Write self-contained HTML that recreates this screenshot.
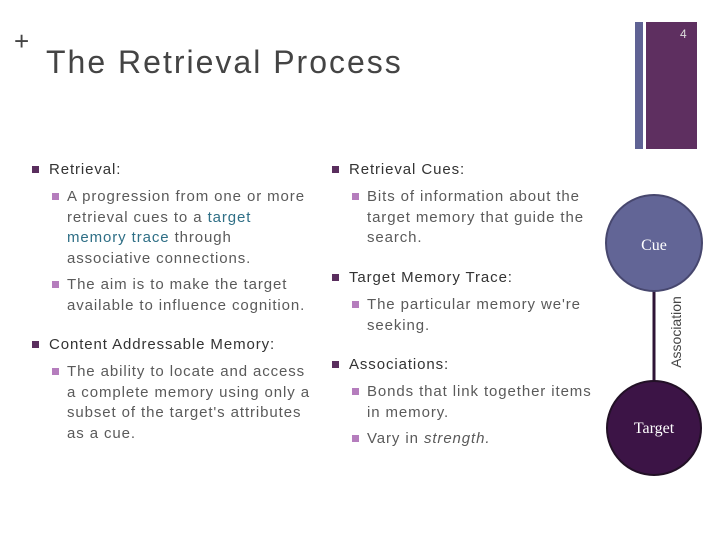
<!DOCTYPE html>
<html><head><meta charset="utf-8"><style>
body{margin:0;width:720px;height:540px;background:#fff;position:relative;overflow:hidden;font-family:"Liberation Sans",sans-serif;color:#5a5a5a}
.a{position:absolute}
.t{font-size:15px;line-height:20.5px;letter-spacing:0.9px}
.l1{color:#333}
.b1{position:absolute;width:7px;height:7px;background:#5a2e5e}
.b2{position:absolute;width:7px;height:7px;background:#b57dbd}
.hl{color:#2f6f86}
</style></head><body>
<div class="a" style="left:14px;top:28px;font-size:26px;color:#444;line-height:26px">+</div>
<div class="a" style="left:46px;top:44px;font-size:32px;color:#444;letter-spacing:2px">The Retrieval Process</div>
<div class="a" style="left:635px;top:22px;width:8px;height:127px;background:#5f6294"></div>
<div class="a" style="left:646px;top:22px;width:51px;height:127px;background:#5e2f60"></div>
<div class="a" style="left:680px;top:27px;font-size:12px;color:#ddd">4</div>

<div class="b1" style="left:32px;top:166px"></div>
<div class="a t l1" style="left:49px;top:160px">Retrieval:</div>
<div class="b2" style="left:52px;top:193px"></div>
<div class="a t" style="left:67px;top:187px;width:245px">A progression from one or more retrieval cues to a <span class="hl">target memory trace</span> through associative connections.</div>
<div class="b2" style="left:52px;top:281px"></div>
<div class="a t" style="left:67px;top:275px;width:245px">The aim is to make the target available to influence cognition.</div>
<div class="b1" style="left:32px;top:341px"></div>
<div class="a t l1" style="left:49px;top:335px">Content Addressable Memory:</div>
<div class="b2" style="left:52px;top:368px"></div>
<div class="a t" style="left:67px;top:362px;width:245px">The ability to locate and access a complete memory using only a subset of the target's attributes as a cue.</div>

<div class="b1" style="left:332px;top:166px"></div>
<div class="a t l1" style="left:349px;top:160px">Retrieval Cues:</div>
<div class="b2" style="left:352px;top:193px"></div>
<div class="a t" style="left:367px;top:187px;width:232px">Bits of information about the target memory that guide the search.</div>
<div class="b1" style="left:332px;top:274px"></div>
<div class="a t l1" style="left:349px;top:268px">Target Memory Trace:</div>
<div class="b2" style="left:352px;top:301px"></div>
<div class="a t" style="left:367px;top:295px;width:232px">The particular memory we're seeking.</div>
<div class="b1" style="left:332px;top:361px"></div>
<div class="a t l1" style="left:349px;top:355px">Associations:</div>
<div class="b2" style="left:352px;top:388px"></div>
<div class="a t" style="left:367px;top:382px;width:232px">Bonds that link together items in memory.</div>
<div class="b2" style="left:352px;top:435px"></div>
<div class="a t" style="left:367px;top:429px;width:232px">Vary in <i>strength.</i></div>

<svg class="a" style="left:0;top:0" width="720" height="540">
<line x1="654" y1="290" x2="654" y2="382" stroke="#2e1436" stroke-width="3"/>
<circle cx="654" cy="243" r="48" fill="#626596" stroke="#47476e" stroke-width="2"/>
<circle cx="654" cy="428" r="47" fill="#3c1446" stroke="#221026" stroke-width="2"/>
<text x="654" y="250" text-anchor="middle" font-family="Liberation Serif" font-size="16" fill="#fff">Cue</text>
<text x="654" y="433" text-anchor="middle" font-family="Liberation Serif" font-size="16" fill="#fff">Target</text>
<text transform="translate(681,332) rotate(-90)" text-anchor="middle" font-family="Liberation Sans" font-size="14" fill="#444">Association</text>
</svg>
</body></html>
